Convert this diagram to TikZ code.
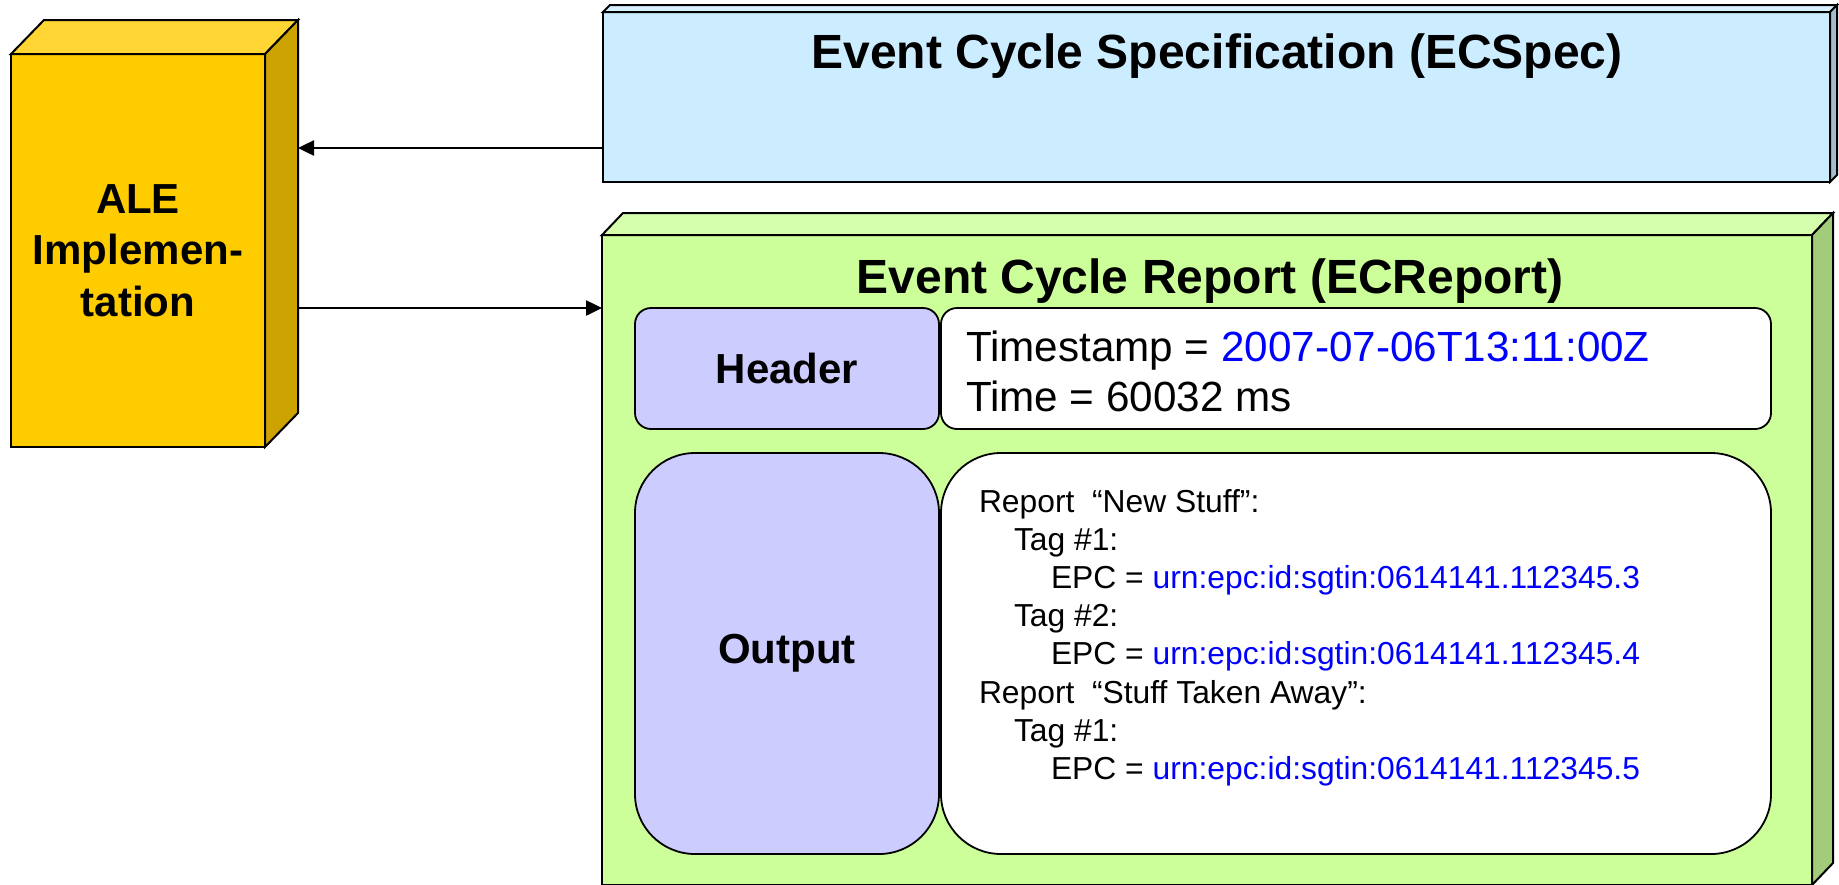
\documentclass[tikz,border=0pt]{standalone}
\usepackage{fontspec}
\setmainfont{Liberation Sans}
\usetikzlibrary{arrows.meta}

\definecolor{gold}{HTML}{FFCC00}
\definecolor{goldtop}{HTML}{FFD633}
\definecolor{goldside}{HTML}{CCA300}
\definecolor{specfill}{HTML}{CCECFF}
\definecolor{spectop}{HTML}{D6F0FF}
\definecolor{specside}{HTML}{A3BDCC}
\definecolor{repfill}{HTML}{CCFF99}
\definecolor{reptop}{HTML}{D6FFAD}
\definecolor{repside}{HTML}{A3CC7A}
\definecolor{lav}{HTML}{CCCCFF}
\definecolor{urlblue}{HTML}{0000FF}

\newcommand\ttlfont{\fontsize{48}{57}\selectfont\bfseries}
\newcommand\lblfont{\fontsize{42}{51.5}\selectfont\bfseries}
\newcommand\hdrfont{\fontsize{42.2}{49.5}\selectfont}
\newcommand\outfont{\fontsize{31.8}{38.2}\selectfont}
\newcommand\urlc[1]{\textcolor{urlblue}{#1}}

\begin{document}
\begin{tikzpicture}[x=1pt, y=-1pt,
  face/.style={draw=black, line width=2pt, inner sep=0pt, outer sep=0pt, rectangle},
  facet/.style={draw=black, line width=2pt, line join=miter},
  panel/.style={draw=black, line width=1.8pt, inner sep=0pt, outer sep=0pt, rectangle},
  conn/.style={line width=2.5pt, -{Triangle[length=16pt, width=15pt]}},
  txt/.style={inner sep=0pt, outer sep=0pt}
]
\useasboundingbox (0,0) rectangle (1839,884);
\fill[white] (0,0) rectangle (1839,884);
\clip (0,0) rectangle (1839,884);

% ALE implementation block (front face, top and side)
\node[face, fill=gold, minimum width=254pt, minimum height=393pt,
      align=center, font=\lblfont] (ale) at (138,250.5) {ALE\\Implemen-\\tation};
\draw[facet, fill=goldtop] (ale.north west) -- ++(33,-34) -- ++(254,0) -- (ale.north east) -- cycle;
\draw[facet, fill=goldside] (ale.north east) -- ++(33,-34) -- ++(0,393) -- (ale.south east) -- cycle;
\path (ale.east) ++(33,0) coordinate (aleback);

% ECSpec block
\node[face, fill=specfill, minimum width=1227pt, minimum height=170pt] (spec) at (1216.5,97) {};
\draw[facet, fill=spectop] (spec.north west) -- ++(7,-7) -- ++(1227,0) -- (spec.north east) -- cycle;
\draw[facet, fill=specside] (spec.north east) -- ++(7,-7) -- ++(0,170) -- (spec.south east) -- cycle;
\node[txt, anchor=base, font=\ttlfont] (spectitle) at (1217,68) {Event Cycle Specification (ECSpec)};

% ECReport block
\node[face, fill=repfill, minimum width=1210pt, minimum height=650pt] (rep) at (1207,560) {};
\draw[facet, fill=reptop] (rep.north west) -- ++(21,-22) -- ++(1210,0) -- (rep.north east) -- cycle;
\draw[facet, fill=repside] (rep.north east) -- ++(21,-22) -- ++(0,650) -- (rep.south east) -- cycle;
\node[txt, anchor=base, font=\ttlfont] (reptitle) at (1210,293) {Event Cycle Report (ECReport)};

% Header row
\node[panel, fill=lav, rounded corners=16pt, minimum width=304pt, minimum height=121pt,
      font=\lblfont] (hdr) at (787,368.5) {Header};
\node[panel, fill=white, rounded corners=16pt, minimum width=830pt, minimum height=121pt] (hdrbody) at (1356,368.5) {};
\node[txt, anchor=north west, align=left, font=\hdrfont] (hdrtext) at (966,331)
  {Timestamp = \urlc{2007-07-06T13:11:00Z}\\Time = 60032 ms};

% Output row
\node[panel, fill=lav, rounded corners=60pt, minimum width=304pt, minimum height=401pt,
      font=\lblfont] (out) at (787,653.5) {Output};
\node[panel, fill=white, rounded corners=60pt, minimum width=830pt, minimum height=401pt] (outbody) at (1356,653.5) {};
\node[txt, anchor=north west, align=left, font=\outfont] (outtext) at (979,489)
  {Report\ \ “New Stuff”:\\
   \hspace*{35pt}Tag \#1:\\
   \hspace*{72pt}EPC = \urlc{urn:epc:id:sgtin:0614141.112345.3}\\
   \hspace*{35pt}Tag \#2:\\
   \hspace*{72pt}EPC = \urlc{urn:epc:id:sgtin:0614141.112345.4}\\
   Report\ \ “Stuff Taken Away”:\\
   \hspace*{35pt}Tag \#1:\\
   \hspace*{72pt}EPC = \urlc{urn:epc:id:sgtin:0614141.112345.5}};

% Connectors
\coordinate (toprow) at (0,148);
\coordinate (botrow) at (0,308);
\draw[conn] (spec.west |- toprow) -- (aleback |- toprow);
\draw[conn] (aleback |- botrow) -- (rep.west |- botrow);
\end{tikzpicture}
\end{document}
